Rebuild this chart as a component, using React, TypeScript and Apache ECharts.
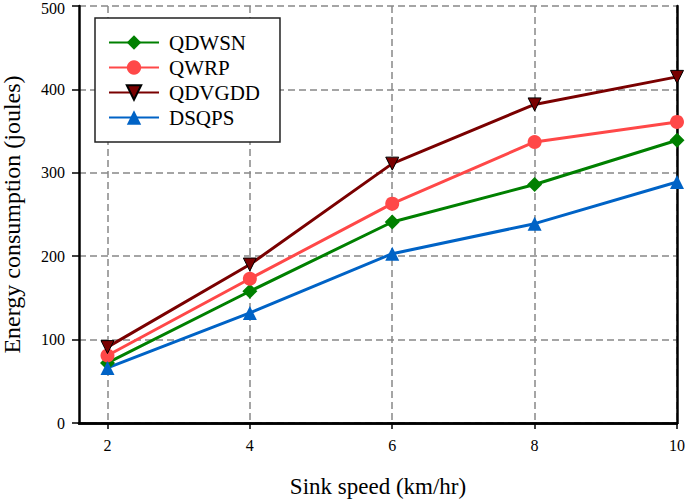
import React, { useEffect, useRef } from "react";
import * as echarts from "echarts";

const speeds = [2, 4, 6, 8, 10];
const xTicks = [2, 4, 6, 8, 10];
const qdwsn = [72, 158, 241, 286, 339];
const qwrp = [81, 173, 263, 337, 361];
const qdvgdd = [91, 190, 311, 382, 415];
const dsqps = [66, 132, 203, 239, 289];

const FONT = "Liberation Serif";

export default function App() {
  const ref = useRef<HTMLDivElement>(null);
  useEffect(() => {
    if (!ref.current) return;
    const chart = echarts.init(ref.current, undefined, { renderer: "svg" });
    const mk = (name: string, vals: number[], color: string, symbol: string, size: number, extra: any = {}) => ({
      name,
      type: "line",
      data: speeds.map((s, i) => [s, vals[i]]),
      symbol,
      symbolSize: size,
      lineStyle: { color, width: 3 },
      itemStyle: { color, ...(extra.itemStyle || {}) },
      symbolRotate: extra.rotate || 0,
      z: 3,
    });
    const border = { show: true, lineStyle: { color: "#000", width: 2.5 } };
    chart.setOption({
      animation: false,
      backgroundColor: "#fff",
      textStyle: { fontFamily: FONT },
      grid: { left: 79, top: 6, width: 598, height: 417, containLabel: false, outerBoundsMode: "none" },
      legend: {
        orient: "vertical",
        left: 95,
        top: 18,
        padding: [14, 20, 14, 13],
        itemGap: 4,
        itemWidth: 50,
        itemHeight: 18,
        backgroundColor: "#fff",
        borderColor: "#222",
        borderWidth: 1.5,
        borderRadius: 0,
        textStyle: { fontFamily: FONT, fontSize: 21, color: "#000", padding: [0, 0, 0, 5] },
        data: ["QDWSN", "QWRP", "QDVGDD", "DSQPS"],
      },
      xAxis: [
        {
          type: "value",
          min: 1.6,
          max: 10,
          name: "Sink speed (km/hr)",
          nameLocation: "middle",
          nameGap: 52,
          nameTextStyle: { fontFamily: FONT, fontSize: 23, color: "#000" },
          axisLine: { lineStyle: { color: "#000", width: 2.5 } },
          axisTick: { show: true, length: 6, lineStyle: { color: "#000", width: 1.5 }, customValues: xTicks },
          axisLabel: { fontFamily: FONT, fontSize: 16, color: "#000", margin: 14, customValues: xTicks },
          splitLine: { show: true, lineStyle: { color: "#888", width: 1.5, type: [7, 4] } },
        },
        {
          type: "value",
          position: "top",
          min: 1.6,
          max: 10,
          axisLine: border,
          axisTick: { show: false },
          axisLabel: { show: false },
          splitLine: { show: false },
        },
      ],
      yAxis: [
        {
          type: "value",
          min: 0,
          max: 500,
          interval: 100,
          name: "Energy consumption (joules)",
          nameLocation: "middle",
          nameGap: 55,
          nameTextStyle: { fontFamily: FONT, fontSize: 24, color: "#000" },
          axisLine: { show: true, lineStyle: { color: "#000", width: 2.5 } },
          axisTick: { show: true, length: 7, lineStyle: { color: "#000", width: 1.5 } },
          axisLabel: {
            fontFamily: FONT,
            fontSize: 16,
            color: "#000",
            margin: 14,
            formatter: (v: number) => (v === 500 ? "{top|500}" : String(v)),
            rich: { top: { fontFamily: FONT, fontSize: 16, color: "#000", padding: [5, 0, 0, 0] } },
          },
          splitLine: { show: true, lineStyle: { color: "#888", width: 1.5, type: [7, 4] } },
        },
        {
          type: "value",
          position: "right",
          min: 0,
          max: 500,
          interval: 100,
          axisLine: border,
          axisTick: { show: false },
          axisLabel: { show: false },
          splitLine: { show: false },
        },
      ],
      series: [
        mk("QDWSN", qdwsn, "#008000", "diamond", 15),
        mk("QWRP", qwrp, "#ff4848", "circle", 14),
        mk("QDVGDD", qdvgdd, "#7a0000", "triangle", 13, { rotate: 180, itemStyle: { borderColor: "#000", borderWidth: 1 } }),
        mk("DSQPS", dsqps, "#0063c6", "triangle", 14),
      ],
    });
    return () => chart.dispose();
  }, []);
  return <div ref={ref} style={{ position: "fixed", left: 0, top: 0, width: 685, height: 501 }} />;
}
